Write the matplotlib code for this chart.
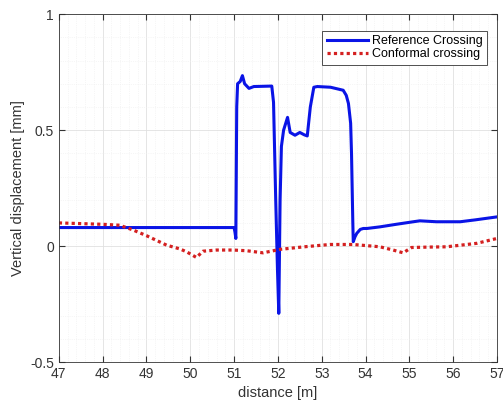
import numpy as np
import matplotlib
matplotlib.use('Agg')
import matplotlib.pyplot as plt
from matplotlib.ticker import MultipleLocator, FormatStrFormatter

plt.rcParams['font.family'] = ['Liberation Sans', 'DejaVu Sans']
plt.rcParams['axes.unicode_minus'] = False

# Reference crossing (blue, solid)
ref_x = [47.0, 51.00, 51.02, 51.04, 51.06, 51.08, 51.14, 51.19, 51.24, 51.34,
         51.45, 51.86, 51.90, 51.95, 51.99, 52.02, 52.05, 52.08, 52.13, 52.22,
         52.28, 52.39, 52.50, 52.60, 52.67, 52.74, 52.82, 52.90, 53.20, 53.49,
         53.56, 53.61, 53.66, 53.68, 53.71, 53.72, 53.76, 53.80, 53.88, 53.95,
         54.03, 54.33, 54.70, 55.09, 55.24, 55.62, 56.16, 56.50, 57.0]
ref_y = [0.080, 0.080, 0.060, 0.033, 0.600, 0.700, 0.710, 0.735, 0.700, 0.680,
         0.688, 0.690, 0.620, 0.200, -0.100, -0.290, 0.200, 0.430, 0.500, 0.555,
         0.490, 0.478, 0.490, 0.480, 0.475, 0.600, 0.685, 0.688, 0.685, 0.672,
         0.650, 0.615, 0.530, 0.400, 0.100, 0.019, 0.040, 0.055, 0.072, 0.076,
         0.076, 0.083, 0.094, 0.105, 0.109, 0.105, 0.105, 0.113, 0.126]

# Conformal crossing (red, dotted)
conf_x = [47.0, 47.5, 48.0, 48.39, 48.70, 49.0, 49.46, 49.76, 49.92, 50.14,
          50.29, 50.6, 50.98, 51.29, 51.66, 52.05, 52.6, 53.19, 53.72, 54.33,
          54.63, 54.86, 55.05, 55.5, 55.85, 56.54, 57.0]
conf_y = [0.100, 0.097, 0.094, 0.090, 0.069, 0.045, 0.004, -0.012, -0.025, -0.049,
          -0.022, -0.017, -0.017, -0.020, -0.029, -0.014, -0.003, 0.007, 0.007, -0.003,
          -0.017, -0.029, -0.006, -0.004, -0.003, 0.012, 0.033]

fig = plt.figure(figsize=(5.03, 4.05), dpi=100)
ax = fig.add_axes([0.117, 0.106, 0.871, 0.859])

ax.plot(ref_x, ref_y, color='#0a14e6', lw=2.2, label='Reference Crossing')
ax.plot(conf_x, conf_y, color='#d42020', lw=2.3, linestyle=(0, (1, 1)),
        label='Conformal crossing')

ax.set_xlim(47, 57)
ax.set_ylim(-0.5, 1)
ax.xaxis.set_major_locator(MultipleLocator(1))
ax.xaxis.set_minor_locator(MultipleLocator(0.2))
ax.yaxis.set_major_locator(MultipleLocator(0.5))
ax.yaxis.set_minor_locator(MultipleLocator(0.1))
ax.yaxis.set_major_formatter(FormatStrFormatter('%g'))

ax.grid(which='major', color='#e0e0e0', lw=0.6)
ax.grid(which='minor', color='#eeeeee', lw=0.5, linestyle=':')
ax.set_axisbelow(True)

ax.tick_params(which='both', direction='in', top=True, right=True,
               colors='#333333', labelsize=10)
ax.tick_params(which='minor', length=0)
ax.tick_params(which='major', length=4)
for s in ax.spines.values():
    s.set_color('#333333')
    s.set_linewidth(0.6)

ax.set_xlabel('distance [m]', fontsize=10.5, color='#333333')
ax.set_ylabel('Vertical displacement [mm]', fontsize=10.5, color='#333333')

leg = ax.legend(loc='upper right', bbox_to_anchor=(0.991, 0.971), fontsize=9,
                fancybox=False, framealpha=1, edgecolor='#333333',
                handlelength=3.3, handletextpad=0.3, borderpad=0.35,
                labelspacing=0.1)
leg.get_frame().set_linewidth(0.6)

fig.savefig('out.png', dpi=100)
